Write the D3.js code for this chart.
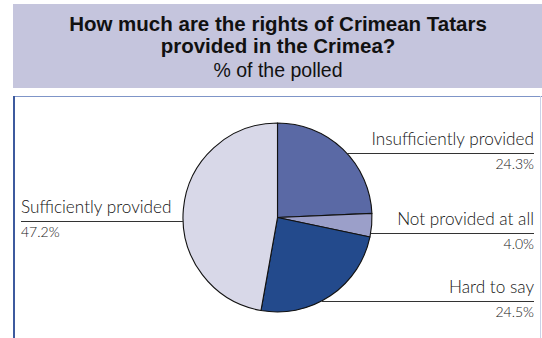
<!DOCTYPE html>
<html>
<head>
<meta charset="utf-8">
<script src="https://cdn.jsdelivr.net/npm/d3@7"></script>
<style>
  html, body { margin: 0; padding: 0; background: #fff; }
  svg { display: block; }
</style>
</head>
<body>
<script>
// Survey answers, in clockwise order from 12 o'clock
const categories = ["Insufficiently provided", "Not provided at all", "Hard to say", "Sufficiently provided"];
const values = [24.3, 4.0, 24.5, 47.2];
const valueLabels = ["24.3%", "4.0%", "24.5%", "47.2%"];
const sliceColors = ["#5a69a5", "#9b9fc9", "#234a8c", "#d8d8e8"];
const titleLines = ["How much are the rights of Crimean Tatars", "provided in the Crimea?"];
const subtitle = "% of the polled";

const W = 542, H = 338;
const svg = d3.select("body").append("svg").attr("width", W).attr("height", H);

// Header band
svg.append("rect").attr("x", 13).attr("y", 4).attr("width", W - 13).attr("height", 84).attr("fill", "#c5c5dd");
const head = svg.append("g").attr("font-family", "Liberation Sans, Arial, sans-serif").attr("fill", "#111").attr("text-anchor", "middle");
head.selectAll("text.t").data(titleLines).join("text").attr("class", "t")
  .attr("x", 278).attr("y", (d, i) => 31 + i * 22)
  .attr("font-size", 20.5).attr("font-weight", "bold").text(d => d);
head.append("text").attr("x", 278).attr("y", 77).attr("font-size", 19.5).text(subtitle);

// Chart frame
svg.append("line").attr("x1", 13).attr("x2", W).attr("y1", 96.5).attr("y2", 96.5).attr("stroke", "#7f95c8").attr("stroke-width", 1);
svg.append("line").attr("x1", 14).attr("x2", 14).attr("y1", 96).attr("y2", H).attr("stroke", "#3d5a9e").attr("stroke-width", 2);
svg.append("line").attr("x1", W - 1.5).attr("x2", W - 1.5).attr("y1", 96).attr("y2", H).attr("stroke", "#c9d2e8").attr("stroke-width", 1);

// Pie
const cx = 277.5, cy = 217.5, r = 94.5;
const pie = d3.pie().sort(null).value(d => d)(values);
const arc = d3.arc().innerRadius(0).outerRadius(r);
const g = svg.append("g").attr("transform", `translate(${cx},${cy})`);
g.selectAll("path").data(pie).join("path")
  .attr("d", arc).attr("fill", (d, i) => sliceColors[i])
  .attr("stroke", "#111").attr("stroke-width", 1.1).attr("stroke-linejoin", "round");

// Leader lines and labels: y of each underline, side of the chart
const leaderY = [153, 233, 301, 221];
const side = ["right", "right", "right", "left"];
const labels = svg.append("g").attr("font-family", "Lato, sans-serif").attr("font-weight", 300).attr("fill", "#141414");

pie.forEach((d, i) => {
  const y = leaderY[i];
  const dy = y - cy;
  const dx = Math.sqrt(Math.max(0, r * r - dy * dy));
  const edgeX = side[i] === "right" ? cx + dx : cx - dx;
  const farX = side[i] === "right" ? 534 : 21;
  svg.append("line").attr("x1", edgeX).attr("x2", farX).attr("y1", y + 0.5).attr("y2", y + 0.5)
    .attr("stroke", "#333").attr("stroke-width", 1);
  const anchor = side[i] === "right" ? "end" : "start";
  labels.append("text").attr("x", farX).attr("y", y - 8).attr("text-anchor", anchor)
    .attr("font-size", 17.2).text(categories[i]);
  labels.append("text").attr("x", farX).attr("y", y + 16).attr("text-anchor", anchor)
    .attr("font-size", 14).text(valueLabels[i]);
});
</script>
</body>
</html>
